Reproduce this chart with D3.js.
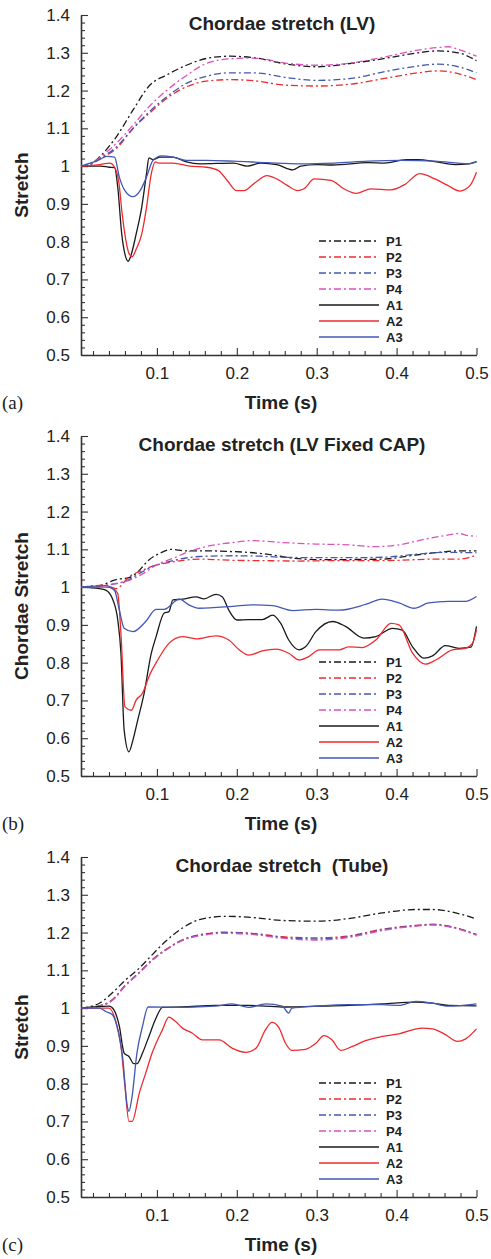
<!DOCTYPE html>
<head>
  <meta charset="utf-8">
  <script src="https://d3js.org/d3.v7.min.js"></script>
  <style>
    body { margin:0; background:#fff; }
    text { font-family: "Liberation Sans", Arial, sans-serif; fill:#222; }
  </style>
</head>
<body>
  <svg id="fig" width="491" height="1259"></svg>
  <script>
    // series names, legend order
    const seriesNames = ["P1", "P2", "P3", "P4", "A1", "A2", "A3"];
    const titles = ["Chordae stretch (LV)", "Chordae stretch (LV Fixed CAP)", "Chordae stretch  (Tube)"];
    const yLabels = ["Stretch", "Chordae Stretch", "Stretch"];
    const panelTags = ["(a)", "(b)", "(c)"];
    const xTicks = [0.1, 0.2, 0.3, 0.4, 0.5];
    const yTicks = [0.5, 0.6, 0.7, 0.8, 0.9, 1.0, 1.1, 1.2, 1.3, 1.4];

    // ---- panel (a): [time, stretch]
    const aP1 = [[0.005,1.0],[0.015,1.003],[0.028,1.024],[0.049,1.077],[0.07,1.148],[0.091,1.214],[0.112,1.241],[0.137,1.267],[0.162,1.285],[0.192,1.291],[0.221,1.287],[0.263,1.27],[0.30,1.263],[0.343,1.272],[0.385,1.285],[0.427,1.30],[0.452,1.305],[0.477,1.30],[0.5,1.279]];
    const aP2 = [[0.005,1.0],[0.015,1.003],[0.028,1.018],[0.049,1.046],[0.07,1.099],[0.09,1.139],[0.112,1.179],[0.137,1.21],[0.162,1.225],[0.192,1.229],[0.221,1.226],[0.263,1.214],[0.30,1.212],[0.343,1.217],[0.385,1.232],[0.427,1.247],[0.452,1.252],[0.477,1.245],[0.5,1.229]];
    const aP3 = [[0.005,1.0],[0.015,1.003],[0.028,1.02],[0.049,1.05],[0.07,1.10],[0.09,1.143],[0.112,1.183],[0.137,1.219],[0.162,1.238],[0.192,1.247],[0.221,1.247],[0.263,1.234],[0.30,1.227],[0.343,1.232],[0.385,1.25],[0.427,1.265],[0.452,1.27],[0.477,1.263],[0.5,1.247]];
    const aP4 = [[0.005,1.0],[0.015,1.003],[0.028,1.022],[0.049,1.06],[0.07,1.108],[0.09,1.157],[0.112,1.20],[0.137,1.24],[0.162,1.272],[0.192,1.284],[0.221,1.286],[0.263,1.272],[0.30,1.267],[0.343,1.273],[0.385,1.289],[0.427,1.307],[0.452,1.314],[0.465,1.316],[0.477,1.309],[0.5,1.291]];
    const aA1 = [[0.005,1.0],[0.03,1.0],[0.04,0.997],[0.047,0.996],[0.051,0.944],[0.056,0.82],[0.06,0.767],[0.064,0.748],[0.068,0.767],[0.074,0.82],[0.081,0.891],[0.087,0.98],[0.09,1.022],[0.095,1.017],[0.104,1.024],[0.12,1.024],[0.137,1.011],[0.154,1.006],[0.196,1.008],[0.213,1.0],[0.23,1.008],[0.25,1.004],[0.27,0.99],[0.28,1.0],[0.30,1.004],[0.32,1.003],[0.364,1.009],[0.385,1.008],[0.412,1.017],[0.427,1.017],[0.448,1.012],[0.473,1.004],[0.49,1.006],[0.5,1.012]];
    const aA2 = [[0.005,1.0],[0.028,1.004],[0.041,1.008],[0.047,0.997],[0.052,0.962],[0.057,0.865],[0.062,0.794],[0.065,0.769],[0.069,0.76],[0.074,0.78],[0.081,0.82],[0.087,0.891],[0.093,0.98],[0.098,1.011],[0.102,1.008],[0.12,1.008],[0.141,1.0],[0.162,0.997],[0.177,0.988],[0.188,0.962],[0.20,0.935],[0.209,0.935],[0.221,0.953],[0.238,0.975],[0.25,0.966],[0.263,0.949],[0.276,0.935],[0.284,0.94],[0.297,0.966],[0.318,0.962],[0.334,0.94],[0.349,0.928],[0.368,0.94],[0.393,0.937],[0.41,0.951],[0.429,0.98],[0.448,0.966],[0.464,0.949],[0.479,0.934],[0.492,0.949],[0.5,0.984]];
    const aA3 = [[0.005,1.0],[0.028,1.017],[0.037,1.026],[0.047,1.024],[0.053,0.971],[0.06,0.935],[0.07,0.919],[0.079,0.935],[0.087,0.971],[0.095,1.015],[0.106,1.027],[0.12,1.024],[0.137,1.015],[0.162,1.015],[0.196,1.013],[0.238,1.009],[0.28,1.006],[0.322,1.008],[0.364,1.013],[0.406,1.015],[0.448,1.013],[0.49,1.006],[0.5,1.011]];

    // ---- panel (b)
    const bP1 = [[0.005,1.0],[0.028,1.004],[0.049,1.02],[0.065,1.025],[0.074,1.036],[0.09,1.072],[0.103,1.089],[0.118,1.1],[0.136,1.096],[0.161,1.096],[0.195,1.094],[0.22,1.091],[0.245,1.085],[0.265,1.078],[0.299,1.073],[0.34,1.073],[0.382,1.074],[0.424,1.085],[0.453,1.092],[0.478,1.096],[0.5,1.096]];
    const bP2 = [[0.005,1.0],[0.035,1.005],[0.049,0.996],[0.065,1.027],[0.082,1.045],[0.099,1.058],[0.12,1.067],[0.153,1.074],[0.195,1.071],[0.236,1.07],[0.278,1.069],[0.32,1.07],[0.361,1.07],[0.403,1.071],[0.445,1.074],[0.478,1.074],[0.5,1.085]];
    const bP3 = [[0.005,1.0],[0.049,1.009],[0.065,1.02],[0.082,1.041],[0.099,1.058],[0.12,1.07],[0.153,1.081],[0.195,1.083],[0.228,1.082],[0.257,1.079],[0.299,1.078],[0.34,1.078],[0.382,1.079],[0.424,1.087],[0.457,1.092],[0.5,1.091]];
    const bP4 = [[0.005,1.0],[0.049,1.01],[0.065,1.018],[0.082,1.035],[0.099,1.058],[0.12,1.076],[0.14,1.094],[0.165,1.109],[0.195,1.118],[0.22,1.123],[0.257,1.118],[0.299,1.114],[0.34,1.112],[0.37,1.107],[0.403,1.112],[0.436,1.127],[0.465,1.138],[0.478,1.142],[0.49,1.136],[0.5,1.135]];
    const bA1 = [[0.005,1.0],[0.028,0.996],[0.036,0.992],[0.045,0.966],[0.051,0.913],[0.055,0.825],[0.059,0.622],[0.065,0.564],[0.07,0.595],[0.076,0.648],[0.084,0.719],[0.093,0.825],[0.099,0.869],[0.109,0.931],[0.115,0.935],[0.12,0.966],[0.132,0.968],[0.149,0.974],[0.159,0.969],[0.174,0.981],[0.182,0.974],[0.19,0.939],[0.2,0.913],[0.215,0.914],[0.232,0.914],[0.245,0.926],[0.255,0.904],[0.265,0.86],[0.278,0.834],[0.286,0.842],[0.299,0.882],[0.32,0.909],[0.336,0.896],[0.359,0.865],[0.374,0.869],[0.395,0.891],[0.407,0.886],[0.42,0.842],[0.434,0.812],[0.445,0.818],[0.461,0.845],[0.478,0.838],[0.493,0.841],[0.5,0.896]];
    const bA2 = [[0.005,1.0],[0.036,1.0],[0.045,0.996],[0.051,0.983],[0.055,0.877],[0.06,0.683],[0.068,0.674],[0.074,0.701],[0.082,0.719],[0.09,0.763],[0.101,0.807],[0.115,0.851],[0.132,0.869],[0.149,0.863],[0.174,0.871],[0.19,0.86],[0.203,0.834],[0.215,0.82],[0.232,0.831],[0.249,0.836],[0.265,0.825],[0.278,0.807],[0.29,0.816],[0.303,0.834],[0.328,0.834],[0.34,0.842],[0.357,0.84],[0.374,0.86],[0.393,0.904],[0.403,0.9],[0.42,0.825],[0.436,0.796],[0.449,0.807],[0.47,0.834],[0.486,0.838],[0.495,0.851],[0.5,0.887]];
    const bA3 = [[0.005,1.0],[0.036,1.004],[0.047,0.991],[0.053,0.939],[0.059,0.891],[0.07,0.882],[0.086,0.909],[0.099,0.941],[0.109,0.941],[0.128,0.968],[0.14,0.953],[0.153,0.944],[0.195,0.949],[0.22,0.953],[0.245,0.951],[0.27,0.938],[0.299,0.941],[0.328,0.939],[0.361,0.954],[0.382,0.968],[0.403,0.958],[0.422,0.944],[0.44,0.958],[0.465,0.962],[0.486,0.962],[0.5,0.975]];

    // ---- panel (c)
    const cP1 = [[0.005,1.0],[0.028,1.013],[0.044,1.04],[0.061,1.075],[0.078,1.106],[0.094,1.141],[0.111,1.177],[0.132,1.212],[0.153,1.234],[0.186,1.243],[0.219,1.24],[0.257,1.232],[0.299,1.23],[0.34,1.237],[0.382,1.252],[0.424,1.261],[0.445,1.261],[0.474,1.252],[0.5,1.236]];
    const cP2 = [[0.005,1.0],[0.028,1.006],[0.044,1.022],[0.061,1.062],[0.078,1.095],[0.094,1.128],[0.111,1.155],[0.132,1.181],[0.153,1.194],[0.186,1.201],[0.219,1.198],[0.257,1.189],[0.299,1.186],[0.34,1.191],[0.382,1.209],[0.424,1.219],[0.445,1.222],[0.474,1.213],[0.5,1.195]];
    const cP3 = [[0.005,1.0],[0.028,1.006],[0.044,1.021],[0.061,1.061],[0.078,1.094],[0.094,1.127],[0.111,1.154],[0.132,1.18],[0.153,1.193],[0.186,1.2],[0.219,1.197],[0.257,1.187],[0.299,1.183],[0.34,1.189],[0.382,1.207],[0.424,1.218],[0.445,1.221],[0.474,1.212],[0.5,1.194]];
    const cP4 = [[0.005,1.0],[0.028,1.005],[0.044,1.02],[0.061,1.06],[0.078,1.093],[0.094,1.126],[0.111,1.153],[0.132,1.179],[0.153,1.191],[0.186,1.198],[0.219,1.195],[0.257,1.185],[0.299,1.18],[0.34,1.187],[0.382,1.205],[0.424,1.217],[0.445,1.22],[0.474,1.211],[0.5,1.193]];
    const cA1 = [[0.005,1.0],[0.04,1.005],[0.046,0.996],[0.053,0.952],[0.059,0.881],[0.065,0.872],[0.071,0.853],[0.075,0.853],[0.082,0.881],[0.09,0.925],[0.098,0.969],[0.107,1.002],[0.132,1.003],[0.173,1.007],[0.215,1.007],[0.257,1.003],[0.299,1.005],[0.34,1.007],[0.382,1.011],[0.424,1.016],[0.445,1.013],[0.465,1.007],[0.5,1.006]];
    const cA2 = [[0.005,1.0],[0.04,1.0],[0.048,0.969],[0.055,0.899],[0.06,0.793],[0.065,0.7],[0.069,0.7],[0.078,0.775],[0.086,0.828],[0.094,0.881],[0.107,0.943],[0.115,0.976],[0.123,0.965],[0.132,0.947],[0.144,0.934],[0.157,0.916],[0.178,0.916],[0.194,0.894],[0.211,0.883],[0.224,0.894],[0.236,0.943],[0.244,0.962],[0.253,0.947],[0.261,0.907],[0.269,0.888],[0.286,0.891],[0.299,0.907],[0.309,0.927],[0.319,0.916],[0.33,0.888],[0.344,0.898],[0.361,0.914],[0.382,0.925],[0.403,0.932],[0.432,0.947],[0.445,0.945],[0.461,0.93],[0.476,0.912],[0.486,0.918],[0.5,0.945]];
    const cA3 = [[0.005,1.0],[0.028,1.0],[0.036,0.991],[0.044,0.983],[0.05,0.952],[0.057,0.872],[0.063,0.74],[0.065,0.727],[0.069,0.767],[0.075,0.881],[0.082,0.952],[0.089,1.003],[0.132,1.002],[0.173,1.005],[0.194,1.011],[0.215,1.002],[0.236,1.011],[0.257,1.005],[0.265,0.987],[0.269,1.0],[0.299,1.005],[0.34,1.009],[0.382,1.009],[0.403,1.007],[0.424,1.018],[0.445,1.013],[0.465,1.005],[0.5,1.011]];

    const panelData = [
      [aP1, aP2, aP3, aP4, aA1, aA2, aA3],
      [bP1, bP2, bP3, bP4, bA1, bA2, bA3],
      [cP1, cP2, cP3, cP4, cA1, cA2, cA3]
    ];

    const colors = ["#1a1a1a", "#ee2a2e", "#4258b4", "#dc52bb", "#1a1a1a", "#ee2a2e", "#4258b4"];
    const dashes = ["7,3,2,3", "7,3,2,3", "7,3,2,3", "7,3,2,3", null, null, null];

    const svg = d3.select("#fig");
    svg.append("rect").attr("width", 491).attr("height", 1259).attr("fill", "#fff");

    const left = 81, right = 476.5, plotH = 340;
    const tops = [15, 436, 857];

    const x = d3.scaleLinear().domain([0.005, 0.5]).range([left, right]);
    const yFmt = d => Math.abs(d - 1) < 1e-9 ? "1" : d3.format(".1f")(d);
    const xMinor = d3.range(0.02, 0.5, 0.02).filter(v => Math.abs(v * 10 - Math.round(v * 10)) > 1e-6);
    const yMinor = d3.range(0.52, 1.4, 0.02).filter(v => Math.abs(v * 10 - Math.round(v * 10)) > 1e-6);

    tops.forEach((top, p) => {
      const y = d3.scaleLinear().domain([0.5, 1.4]).range([top + plotH, top]);
      const g = svg.append("g");

      // minor ticks first
      g.append("g").attr("transform", `translate(0,${top + plotH})`)
        .call(d3.axisBottom(x).tickValues(xMinor).tickSize(-4).tickFormat(""))
        .call(a => a.select(".domain").remove());
      g.append("g").attr("transform", `translate(${left},0)`)
        .call(d3.axisLeft(y).tickValues(yMinor).tickSize(-4).tickFormat(""))
        .call(a => a.select(".domain").remove());

      const xa = g.append("g").attr("transform", `translate(0,${top + plotH})`)
        .call(d3.axisBottom(x).tickValues(xTicks).tickSizeInner(-7).tickSizeOuter(0)
          .tickPadding(12).tickFormat(d3.format(".1f")));
      const ya = g.append("g").attr("transform", `translate(${left},0)`)
        .call(d3.axisLeft(y).tickValues(yTicks).tickSizeInner(-7).tickSizeOuter(0)
          .tickPadding(11).tickFormat(yFmt));
      [xa, ya].forEach(a => {
        a.selectAll("text").style("font-size", "17px").attr("fill", "#222")
          .style("font-family", "'Liberation Sans', Arial, sans-serif");
      });
      g.selectAll(".tick line").attr("stroke", "#333").attr("stroke-width", 1.1);
      g.selectAll(".domain").attr("stroke", "#333").attr("stroke-width", 1.6);

      // curves
      const line = d3.line().x(d => x(d[0])).y(d => y(d[1])).curve(d3.curveMonotoneX);
      panelData[p].forEach((s, i) => {
        g.append("path").datum(s)
          .attr("fill", "none")
          .attr("stroke", colors[i])
          .attr("stroke-width", 1.3)
          .attr("stroke-dasharray", dashes[i])
          .attr("d", line);
      });

      // legend
      const lg = g.append("g").attr("transform", `translate(319,${top + 226})`);
      seriesNames.forEach((n, i) => {
        lg.append("line").attr("x1", 0).attr("x2", 60)
          .attr("y1", i * 16).attr("y2", i * 16)
          .attr("stroke", colors[i]).attr("stroke-width", 1.3)
          .attr("stroke-dasharray", dashes[i]);
        lg.append("text").attr("x", 67).attr("y", i * 16 + 5)
          .style("font-size", "13px").style("font-weight", "bold").text(n);
      });

      // titles and labels
      g.append("text").attr("x", 282).attr("y", top + 15)
        .attr("text-anchor", "middle").style("font-size", "19px").style("font-weight", "bold")
        .style("white-space", "pre").text(titles[p]);
      g.append("text").attr("transform", `translate(28,${top + plotH / 2}) rotate(-90)`)
        .attr("text-anchor", "middle").style("font-size", "19px").style("font-weight", "bold")
        .text(yLabels[p]);
      g.append("text").attr("x", 281).attr("y", top + plotH + 54)
        .attr("text-anchor", "middle").style("font-size", "19px").style("font-weight", "bold")
        .text("Time (s)");
      g.append("text").attr("x", 2).attr("y", top + plotH + 54)
        .style("font-family", "'Liberation Serif', 'Times New Roman', serif")
        .style("font-size", "19px").text(panelTags[p]);
    });
  </script>
</body>
